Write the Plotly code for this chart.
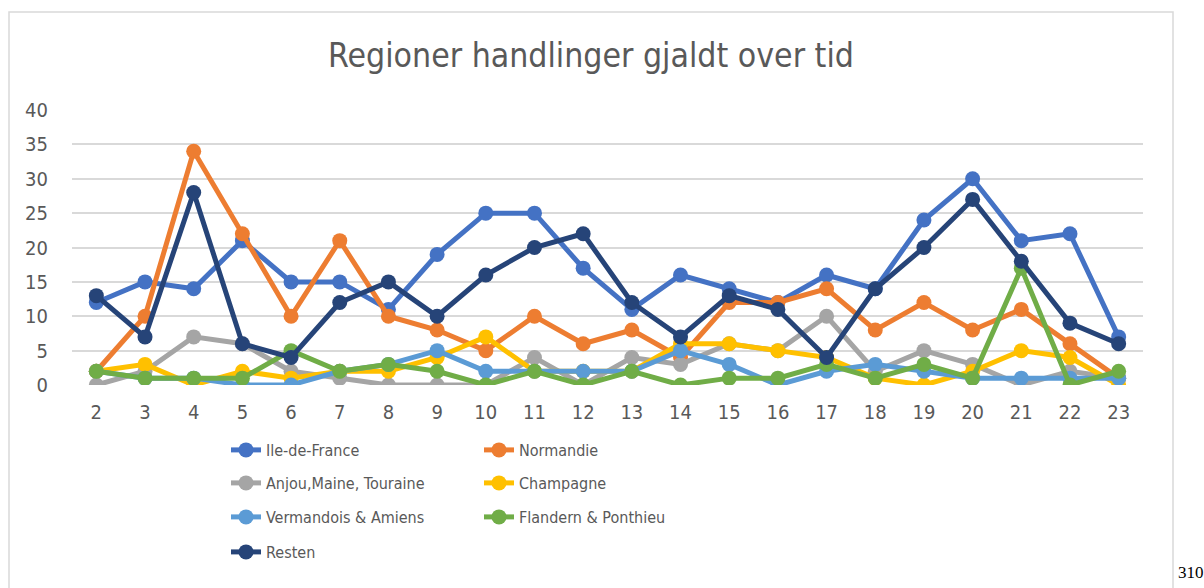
import plotly.graph_objects as go

x_vals = list(range(2, 24))

ile_de_france = [12, 15, 14, 21, 15, 15, 11, 19, 25, 25, 17, 11, 16, 14, 12, 16, 14, 24, 30, 21, 22, 7]
normandie     = [2, 10, 34, 22, 10, 21, 10, 8, 5, 10, 6, 8, 4, 12, 12, 14, 8, 12, 8, 11, 6, 1]
anjou         = [0, 2, 7, 6, 2, 1, 0, 0, 0, 4, 0, 4, 3, 6, 5, 10, 2, 5, 3, 0, 2, 1]
champagne     = [2, 3, 0, 2, 1, 2, 2, 4, 7, 2, 2, 2, 6, 6, 5, 4, 1, 0, 2, 5, 4, 0]
vermandois    = [2, 1, 1, 0, 0, 2, 3, 5, 2, 2, 2, 2, 5, 3, 0, 2, 3, 2, 1, 1, 1, 1]
flandern      = [2, 1, 1, 1, 5, 2, 3, 2, 0, 2, 0, 2, 0, 1, 1, 3, 1, 3, 1, 17, 0, 2]
resten        = [13, 7, 28, 6, 4, 12, 15, 10, 16, 20, 22, 12, 7, 13, 11, 4, 14, 20, 27, 18, 9, 6]

series_names = ["Ile-de-France", "Normandie", "Anjou,Maine, Touraine", "Champagne",
                "Vermandois & Amiens", "Flandern & Ponthieu", "Resten"]
series_values = [ile_de_france, normandie, anjou, champagne, vermandois, flandern, resten]
colors = ["#4472C4", "#ED7D31", "#A5A5A5", "#FFC000", "#5B9BD5", "#70AD47", "#264478"]

y_ticks = [0, 5, 10, 15, 20, 25, 30, 35, 40]

W, H = 1204, 588
FONT = "DejaVu Sans Condensed, Liberation Sans Narrow, sans-serif"
TXT = "#595959"

fig = go.Figure()
legend_ids = ["legend", "legend2", "legend3", "legend4", "legend5", "legend6", "legend7"]
for name, vals, col, lid in zip(series_names, series_values, colors, legend_ids):
    fig.add_trace(go.Scatter(
        x=x_vals, y=vals, name=name, mode="lines+markers",
        line=dict(color=col, width=5),
        marker=dict(color=col, size=15),
        legend=lid,
    ))

# legend placement (pixel positions / row centers)
col_x = [226, 479]
row_y = [450, 483, 517, 552]
positions = [(0, 0), (1, 0), (0, 1), (1, 1), (0, 2), (1, 2), (0, 3)]
leg_layout = {}
for lid, (c, r) in zip(legend_ids, positions):
    leg_layout[lid] = dict(
        x=col_x[c] / W, y=1 - row_y[r] / H, xanchor="left", yanchor="middle",
        bgcolor="rgba(0,0,0,0)", font=dict(family=FONT, size=16, color=TXT),
        itemsizing="trace",
    )

fig.update_layout(
    width=W, height=H,
    margin=dict(l=0, r=0, t=0, b=0, autoexpand=False),
    paper_bgcolor="white", plot_bgcolor="white",
    showlegend=True,
    title=dict(text="Regioner handlinger gjaldt over tid", x=591 / W, xanchor="center",
               y=1 - 55 / H, yanchor="middle",
               font=dict(family=FONT, size=33.5, color=TXT)),
    xaxis=dict(domain=[72 / W, 1143 / W], range=[1.5, 23.5], tickmode="array",
               tickvals=x_vals, ticktext=[str(v) for v in x_vals],
               showgrid=False, zeroline=False, showline=False, ticks="", automargin=False,
               tickfont=dict(family=FONT, size=20, color=TXT), ticklabelstandoff=13),
    yaxis=dict(domain=[1 - 385 / H, 1 - 110 / H], range=[0, 40], tickmode="array",
               tickvals=y_ticks, showgrid=True, gridcolor="#D9D9D9", gridwidth=1.5,
               zeroline=False, showline=False, ticks="", automargin=False,
               tickfont=dict(family=FONT, size=20, color=TXT), ticklabelstandoff=23),
    shapes=[dict(type="rect", xref="paper", yref="paper",
                 x0=9 / W, x1=1173 / W, y0=-0.1, y1=1 - 12 / H,
                 line=dict(color="#D9D9D9", width=1.5), fillcolor="rgba(0,0,0,0)", layer="below")],
    annotations=[dict(text="310", xref="paper", yref="paper", x=1176 / W, y=1 - 572 / H,
                      xanchor="left", yanchor="middle", showarrow=False,
                      font=dict(family="Liberation Serif, Times New Roman, serif", size=17, color="black"))],
    **leg_layout,
)

fig.write_html("out.html", config={"displayModeBar": False},
               post_script="document.body.style.margin='0px';")
